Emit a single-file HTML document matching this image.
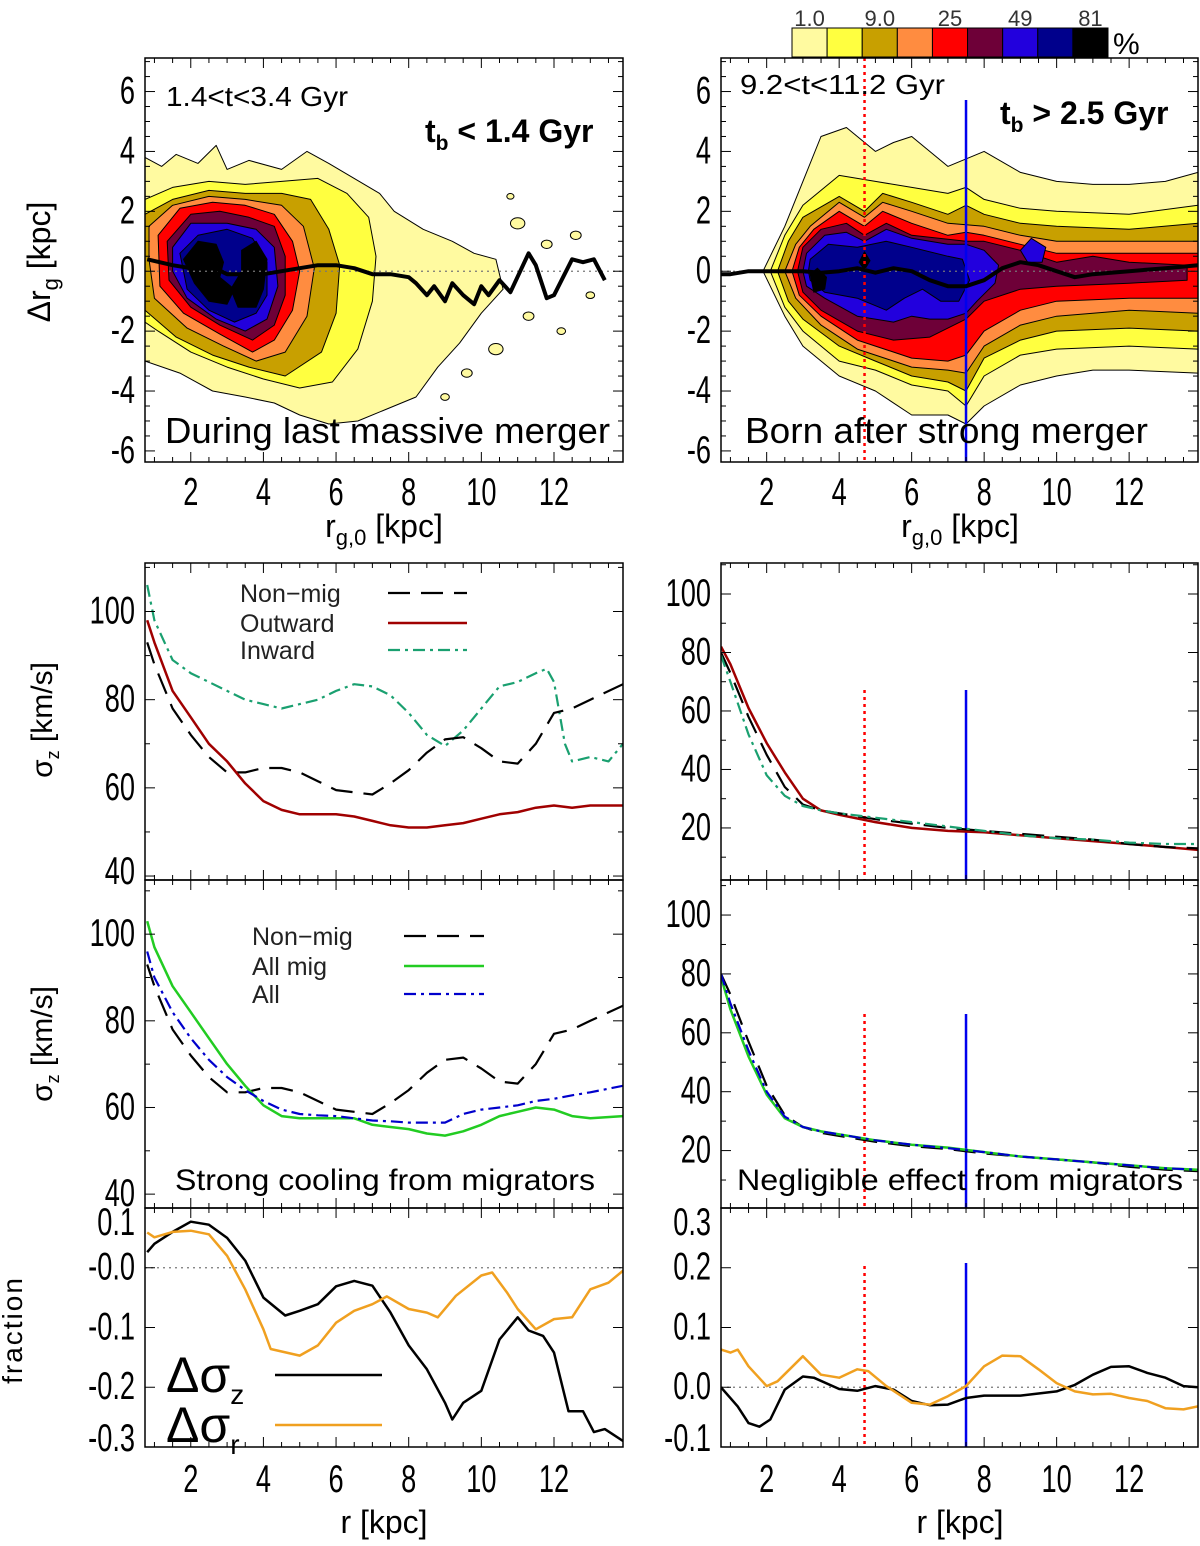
<!DOCTYPE html>
<html><head><meta charset="utf-8"><style>
html,body{margin:0;padding:0;background:#fff;}
svg{display:block;}
text{font-family:"Liberation Sans",sans-serif;}
</style></head><body>
<svg id="fig" width="1200" height="1546" viewBox="0 0 1200 1546" xmlns="http://www.w3.org/2000/svg"></svg>
<script>
// ---------- data ----------
const xTicks = [2,4,6,8,10,12];
const yTicksTop = [-6,-4,-2,0,2,4,6];
const yTicksSig = [40,60,80,100];
const yTicksSigR = [20,40,60,80,100];
const yTicksFracL = [-0.3,-0.2,-0.1,0.0,0.1];
const yTicksFracR = [-0.1,0.0,0.1,0.2,0.3];
const cbColors = ['#fffaa0','#ffff40','#c8a000','#ff8c40','#ff0000','#6e0038','#2200dd','#00008c','#000000'];
const cbLabels = ['1.0','','9.0','','25','','49','','81'];

// left top contours (rg0, drg)
const cL1 = [[0.74,3.8],[1.2,3.5],[1.6,3.9],[2.2,3.6],[2.7,4.2],[3,3.4],[3.6,3.7],[4.5,3.4],[5.2,4.0],[5.8,3.6],[6.5,3.1],[7.2,2.6],[7.6,2.0],[8.4,1.4],[9.2,1.0],[9.8,0.6],[10.4,0.4],[10.6,-0.6],[10.0,-1.4],[9.4,-2.4],[8.8,-3.2],[8.2,-4.2],[7.4,-4.6],[6.6,-5.0],[5.8,-5.1],[5,-4.8],[4.3,-4.4],[3.5,-4.2],[2.6,-4.0],[1.7,-3.4],[0.74,-3.0]];
const cL2 = [[0.74,2.4],[1.5,2.8],[2.5,3.0],[3.5,2.9],[4.5,3.0],[5.5,3.1],[6.3,2.6],[6.9,1.8],[7.1,0.5],[7.0,-1.0],[6.6,-2.6],[5.9,-3.7],[5,-3.9],[4,-3.6],[3,-3.2],[2,-2.7],[1.1,-2.0],[0.74,-1.7]];
const cL3 = [[0.74,1.9],[1.5,2.4],[2.5,2.7],[3.5,2.6],[4.5,2.6],[5.3,2.4],[5.8,1.4],[6.1,0.2],[6.0,-1.4],[5.6,-2.7],[4.6,-3.5],[3.6,-3.2],[2.6,-2.8],[1.6,-2.2],[0.74,-1.3]];
const cL4 = [[0.85,1.5],[1.5,2.2],[2.5,2.5],[3.5,2.4],[4.5,2.2],[5.1,1.5],[5.4,0.1],[5.2,-1.5],[4.6,-2.7],[3.8,-3.0],[2.9,-2.5],[1.9,-1.9],[1.0,-0.9],[0.85,0.4]];
const cL5 = [[1.1,1.2],[1.7,2.1],[2.6,2.3],[3.5,2.2],[4.3,1.9],[4.8,1.0],[5.0,0.0],[4.8,-1.3],[4.3,-2.3],[3.7,-2.7],[2.8,-2.1],[1.8,-1.4],[1.15,-0.5]];
const cL6 = [[1.35,1.0],[2.0,1.9],[2.8,2.0],[3.6,1.8],[4.3,1.5],[4.6,0.5],[4.6,-0.8],[4.3,-1.8],[3.7,-2.3],[2.8,-1.8],[2.0,-1.2],[1.4,-0.3]];
const cL7 = [[1.5,0.8],[2.0,1.6],[3.0,1.6],[3.8,1.4],[4.3,0.8],[4.4,-0.5],[4.1,-1.6],[3.5,-2.0],[2.7,-1.6],[1.9,-0.9],[1.5,0.0]];
const cL8 = [[1.7,0.6],[2.2,1.2],[3.0,1.4],[3.7,1.1],[4.1,0.3],[4.1,-0.8],[3.8,-1.4],[3.2,-1.7],[2.5,-1.3],[1.9,-0.6]];
const cL9a = [[1.8,0.4],[2.2,1.0],[2.7,0.9],[2.9,0.3],[2.8,-0.2],[3.2,-0.6],[3.0,-1.1],[2.5,-1.0],[2.1,-0.4]];
const cL9b = [[3.4,0.7],[3.8,1.0],[4.1,0.4],[4.0,-0.6],[3.8,-1.2],[3.3,-1.2],[3.1,-0.6],[3.4,0.0]];
const islandX = [11.0,11.8,12.6,10.4,9.6,11.3,12.2,9.0,13.0,10.8];
const islandY = [1.6,0.9,1.2,-2.6,-3.4,-1.5,-2.0,-4.2,-0.8,2.5];
const islandR = [0.2,0.15,0.15,0.2,0.15,0.15,0.12,0.12,0.12,0.1];

// right top contours
const cR1 = [[1.9,0.0],[2.5,1.5],[3.0,3.0],[3.5,4.5],[4.2,4.8],[5.0,4.0],[5.5,4.3],[6.0,4.5],[7.0,3.5],[8.0,4.0],[9.0,3.3],[10.0,3.0],[11,2.9],[12,2.9],[13,3.0],[13.9,3.3],[13.9,-3.4],[12,-3.3],[11,-3.3],[10,-3.5],[9,-3.8],[8,-4.5],[7.5,-5.1],[7,-4.8],[6,-4.8],[5,-4.0],[4,-3.5],[3,-2.5],[2.5,-1.5]];
const cR2 = [[2.1,0.0],[2.5,1.2],[3,2.2],[4,3.2],[5,3.0],[6,2.8],[7,2.6],[7.5,2.8],[8,2.4],[9,2.1],[10,2.0],[12,1.9],[13.9,2.2],[13.9,-2.6],[12,-2.5],[10,-2.6],[9,-2.8],[8,-3.5],[7.5,-4.5],[7,-4.0],[6,-3.8],[5,-3.3],[4,-3.0],[3,-2.0],[2.5,-1.2]];
const cR3 = [[2.3,0.0],[2.6,1.0],[3,1.8],[4,2.5],[4.7,2.0],[5.2,2.6],[6,2.3],[7,1.9],[7.5,2.2],[8,1.9],[9,1.6],[10,1.5],[12,1.4],[13.9,1.6],[13.9,-2.0],[12,-1.9],[10,-2.0],[9,-2.3],[8,-2.9],[7.5,-4.0],[7,-3.7],[6,-3.5],[5,-3.0],[4,-2.5],[3,-1.6],[2.6,-1.0]];
const cR4 = [[2.5,0.0],[2.8,0.9],[3.2,1.5],[4,2.3],[4.7,1.8],[5.2,2.3],[6,2.0],[7,1.6],[8,1.5],[9,1.2],[10,1.0],[12,1.0],[13.9,1.0],[13.9,-1.4],[12,-1.3],[10,-1.5],[9,-1.8],[8,-2.5],[7.5,-3.4],[7,-3.3],[6,-3.2],[4.5,-2.6],[3.5,-1.8],[2.8,-0.9]];
const cR5 = [[2.7,0.0],[2.9,0.8],[3.3,1.4],[4,2.0],[4.7,1.5],[5.2,2.0],[6,1.6],[7,1.2],[7.5,1.3],[8,1.2],[9,0.9],[10,0.6],[12,0.6],[13.9,0.6],[13.9,-0.9],[12,-0.9],[10,-1.0],[9,-1.3],[8,-2.0],[7.5,-2.8],[7,-3.0],[6,-2.9],[4.5,-2.3],[3.5,-1.5],[2.9,-0.8]];
const cR6 = [[2.85,0.0],[3.0,0.8],[3.5,1.4],[4.2,1.6],[4.7,1.2],[5.3,1.6],[6,1.2],[7.5,1.0],[8,1.0],[9,0.7],[10,0.3],[11,0.5],[12,0.3],[13.6,0.2],[13.6,-0.3],[12,-0.4],[10,-0.5],[9,-0.6],[8,-1.0],[7.5,-1.6],[7,-1.9],[6.5,-2.2],[5.5,-2.3],[4.5,-2.0],[3.5,-1.3],[3.0,-0.7]];
const cR7 = [[3.0,0.0],[3.1,0.6],[3.6,1.2],[4.2,1.3],[4.7,1.0],[5.3,1.4],[6,1.1],[7,0.9],[7.5,0.9],[8,0.7],[8.4,0.2],[8.3,-0.4],[7.8,-1.0],[7.5,-1.4],[7,-1.6],[6.5,-1.6],[6,-1.5],[5.5,-1.7],[4.5,-1.5],[3.6,-0.9],[3.1,-0.5]];
const cR7b = [[9.0,0.7],[9.3,1.1],[9.7,0.8],[9.6,0.3],[9.2,0.3]];
const cR8 = [[3.15,0.0],[3.2,0.4],[3.7,0.9],[4.5,0.8],[5.3,1.0],[6,0.8],[7,0.5],[7.4,0.4],[7.6,-0.3],[7.3,-1.0],[6.8,-1.0],[6.3,-0.6],[5.8,-0.9],[5.3,-1.3],[4.5,-0.9],[3.6,-0.7],[3.2,-0.3]];
const cR9a = [[3.2,-0.1],[3.4,0.1],[3.65,-0.2],[3.6,-0.6],[3.3,-0.7]];
const cR9b = [[4.55,0.3],[4.7,0.65],[4.85,0.35],[4.7,0.05]];

// mean lines
const meanLx = [0.8,1.5,2,2.5,3,3.5,4,4.5,5,5.5,6,6.5,7,7.5,8,8.2,8.5,8.7,9,9.2,9.5,9.8,10,10.2,10.5,10.8,11.3,11.5,11.8,12,12.5,12.8,13.1,13.4];
const meanLy = [0.4,0.2,0.1,0.2,-0.1,-0.1,-0.1,0,0.1,0.2,0.2,0.1,-0.1,-0.1,-0.2,-0.4,-0.8,-0.5,-1.0,-0.4,-0.8,-1.1,-0.5,-0.8,-0.3,-0.7,0.6,0.2,-0.9,-0.8,0.4,0.3,0.4,-0.3];
const meanRx = [0.74,1,1.5,2,3,3.5,4,4.5,5,5.5,6,6.5,7,7.5,8,8.5,9,9.5,10,10.5,11,12,13,13.9];
const meanRy = [-0.1,-0.1,0,0,0,-0.05,0,0.1,-0.05,0.1,0,-0.3,-0.5,-0.5,-0.3,0.1,0.3,0.2,0,-0.2,-0.1,0,0.1,0.2];

// sigma_z panels
const rL = [0.8,1,1.5,2,2.5,3,3.5,4,4.5,5,5.5,6,6.5,7,7.5,8,8.5,9,9.5,10,10.5,11,11.5,12,12.5,13,13.9];
const nonMigL = [93,88,78,72,67,63.5,63.5,64.5,64.5,63.5,61.5,59.5,59,58.5,61,64,68,71,71.5,69,66,65.5,70,77,78,80,83.5];
const outwardL = [98,93,82,76,70,66,61,57,55,54,54,54,53.5,52.5,51.5,51,51,51.5,52,53,54,54.5,55.5,56,55.5,56,56];
const inwardLx = [0.8,1,1.5,2,2.5,3,3.5,4,4.5,5,5.5,6,6.5,7,7.5,8,8.5,9,9.5,10,10.5,11,11.5,11.8,12,12.3,12.5,13,13.5,13.9];
const inwardL = [106,98,89,86,84,82,80,79,78,79,80,82,83.5,83,81,77,72,69.5,73,78,83,84,86,87,84,70,66,67,66,70];
const allMigL = [103,97,88,82,76,70,65,60.5,58,57.5,57.5,57.5,57.5,56,55.5,55,54,53.5,54.5,56,58,59,60,59.5,58,57.5,58];
const allL = [96,90,82,76,71,67,64,61.5,59.5,58.5,58.2,58,57.5,57,56.8,56.5,56.5,56.5,58.5,59.5,60,60.5,61.5,62,62.8,63.5,65];
const rR = [0.74,1,1.5,2,2.5,3,3.5,4,5,6,7,8,9,10,11,12,13,13.9];
const nonMigR = [80,73,58,45,34,28,26,25,23,21.5,20,19,18,17,16,14.5,13.5,13];
const outwardR = [82,76,61,49,39,30,26,24.5,22,20,19,18.5,17.5,16.5,15.5,14.5,13.5,12.5];
const inwardR = [79,70,52,38,31,27.5,26,25,23.5,22,20.5,19,17.5,16.5,16,15,14.5,14.5];
const nonMigR2 = [80,73,57,42,32,28,26,25,23,21.5,20.5,19,18,17,16,14.5,13.5,13];
const allMigR = [79,68,52,39,31,28,26.5,25.5,23.5,22,21,19.5,18,17,16,15,14,13.5];
const allR = [80,70,54,40,31.5,28,26.5,25.5,23.5,22,20.8,19.5,18,17,16,15,14,13.5];

// fraction panels
const fLx = [0.8,1,1.5,2,2.5,3,3.5,4,4.6,5,5.5,6,6.5,7,7.5,8,8.5,9,9.2,9.5,10,10.5,11,11.3,11.7,12,12.4,12.8,13.1,13.4,13.9];
const dSzL = [0.026,0.04,0.06,0.077,0.072,0.05,0.012,-0.05,-0.08,-0.072,-0.061,-0.031,-0.022,-0.03,-0.075,-0.13,-0.17,-0.226,-0.254,-0.226,-0.206,-0.12,-0.083,-0.105,-0.114,-0.142,-0.24,-0.24,-0.275,-0.27,-0.29];
const fLx2 = [0.8,1,1.5,2,2.5,3,3.5,4,4.2,5,5.5,6,6.5,7,7.4,8,8.5,8.8,9.3,10,10.3,10.7,11,11.5,12,12.5,13,13.5,13.9];
const dSrL = [0.059,0.051,0.06,0.062,0.056,0.02,-0.036,-0.103,-0.136,-0.147,-0.13,-0.092,-0.072,-0.061,-0.048,-0.069,-0.075,-0.083,-0.047,-0.013,-0.008,-0.041,-0.069,-0.103,-0.086,-0.083,-0.036,-0.025,-0.005];
const fRx = [0.74,1.2,1.5,1.8,2.1,2.5,3,3.3,4,4.5,5,5.5,6,6.5,7,7.5,8,9,10,10.5,11,11.5,12,12.5,13,13.5,13.9];
const dSzR = [0,-0.032,-0.06,-0.066,-0.054,-0.004,0.018,0.016,-0.003,-0.006,0.002,-0.004,-0.023,-0.03,-0.029,-0.018,-0.014,-0.014,-0.007,0.004,0.021,0.034,0.035,0.024,0.016,0.002,0];
const fRx2 = [0.74,1,1.2,1.5,2,2.3,3,3.5,4,4.5,4.8,5.3,6,6.5,7,7.5,8,8.5,9,9.5,10,10.5,11,11.5,12,12.5,13,13.5,13.9];
const dSrR = [0.063,0.058,0.063,0.035,0.002,0.01,0.052,0.021,0.016,0.03,0.027,0.002,-0.026,-0.029,-0.015,0.002,0.035,0.053,0.052,0.03,0.007,-0.007,-0.012,-0.011,-0.018,-0.023,-0.035,-0.037,-0.032];
const rRed = 4.7, rBlue = 7.5;

// ---------- drawing ----------
const NS = 'http://www.w3.org/2000/svg';
const svg = document.getElementById('fig');
function mk(tag, name, attrs, parent){
  const el = document.createElementNS(NS, tag);
  
  
  for (const k in attrs) el.setAttribute(k, attrs[k]);
  (parent||svg).appendChild(el);
  return el;
}
function txt(name, x, y, s, size, extra, parent){
  const t = mk('text', name, Object.assign({x:x, y:y, 'font-size':size, fill:'#000'}, extra||{}), parent);
  t.textContent = s;
  return t;
}
function panel(p){
  const sx = v => p.x0 + (v - p.xr[0])/(p.xr[1]-p.xr[0])*(p.x1-p.x0);
  const sy = v => p.y1 - (v - p.yr[0])/(p.yr[1]-p.yr[0])*(p.y1-p.y0);
  p.sx = sx; p.sy = sy;
  p.g = mk('g', p.name, {});
  const cid = p.name + '-clip';
  const cp = mk('clipPath', 'clip', {id:cid}, p.g);
  mk('rect', 'clip-rect', {x:p.x0, y:p.y0, width:p.x1-p.x0, height:p.y1-p.y0}, cp);
  p.plot = mk('g', p.name + '-plot', {'clip-path':'url(#'+cid+')'}, p.g);
  return p;
}
function finishAxes(p){
  const g = mk('g', p.name + '-axes', {}, p.g);
  mk('rect', 'frame', {x:p.x0, y:p.y0, width:p.x1-p.x0, height:p.y1-p.y0, fill:'none', stroke:'#000', 'stroke-width':1.5}, g);
  for (let v = 0.5; v < p.xr[1]; v += 0.5){
    if (v < p.xr[0]) continue;
    const x = p.sx(v), major = Math.abs(v % 2) < 1e-6, L = major ? 10 : 5;
    mk('line', 'x-tick', {x1:x, x2:x, y1:p.y1, y2:p.y1-L, stroke:'#000', 'stroke-width':1}, g);
    mk('line', 'x-tick', {x1:x, x2:x, y1:p.y0, y2:p.y0+L, stroke:'#000', 'stroke-width':1}, g);
  }
  for (let v = Math.ceil(p.yr[0]/p.ym)*p.ym; v <= p.yr[1]+1e-9; v += p.ym){
    const y = p.sy(v);
    const major = p.yt.some(t => Math.abs(t - v) < 1e-6), L = major ? 10 : 5;
    mk('line', 'y-tick', {x1:p.x0, x2:p.x0+L, y1:y, y2:y, stroke:'#000', 'stroke-width':1}, g);
    mk('line', 'y-tick', {x1:p.x1, x2:p.x1-L, y1:y, y2:y, stroke:'#000', 'stroke-width':1}, g);
  }
  p.yt.forEach(v => {
    let y = Math.min(Math.max(p.sy(v), p.y0+15), p.y1-8);
    txt('y-tick-label', p.x0-10, y+12, p.fmt(v), 34, {'text-anchor':'end', transform:'translate('+(p.x0-10)+','+(y+12)+') scale(0.8,1.15) translate('+(-(p.x0-10))+','+(-(y+12))+')'}, g);
  });
  if (p.xl){
    xTicks.forEach(v => {
      const x = p.sx(v), y = p.xly;
      txt('x-tick-label', x, y, String(v), 34, {'text-anchor':'middle', transform:'translate('+x+','+y+') scale(0.8,1.15) translate('+(-x)+','+(-y)+')'}, g);
    });
  }
}
function poly(p, pts, fill, name){
  const d = pts.map((q,i) => (i?'L':'M') + p.sx(q[0]).toFixed(1) + ',' + p.sy(q[1]).toFixed(1)).join('') + 'Z';
  mk('path', name, {d:d, fill:fill, stroke:'#000', 'stroke-width':1, 'stroke-linejoin':'round'}, p.plot);
}
function line(p, xs, ys, color, w, dash, name){
  const d = xs.map((x,i) => (i?'L':'M') + p.sx(x).toFixed(1) + ',' + p.sy(ys[i]).toFixed(1)).join('');
  const a = {d:d, fill:'none', stroke:color, 'stroke-width':w, 'stroke-linejoin':'round'};
  if (dash) a['stroke-dasharray'] = dash;
  mk('path', name, a, p.plot);
}
function hzero(p){
  mk('line', 'zero-line', {x1:p.x0, x2:p.x1, y1:p.sy(0), y2:p.sy(0), stroke:'#777', 'stroke-width':1.2, 'stroke-dasharray':'2,4'}, p.plot);
}
function vmarks(p, topRed, topBlue){
  mk('line', 'red-dotted-marker', {x1:p.sx(rRed), x2:p.sx(rRed), y1:topRed, y2:p.y1, stroke:'#ff0000', 'stroke-width':2.5, 'stroke-dasharray':'3,4'}, p.plot);
  mk('line', 'blue-marker', {x1:p.sx(rBlue), x2:p.sx(rBlue), y1:topBlue, y2:p.y1, stroke:'#0000ee', 'stroke-width':2.5}, p.plot);
}
const XR = [0.74, 13.9];
const f0 = v => String(v);
const f1 = v => (v === 0 ? '-0.0' : v.toFixed(1));
const f1r = v => v.toFixed(1);

// Top-left
const pA = panel({name:'panel-top-left', x0:145, x1:623, y0:58, y1:462, xr:XR, yr:[-6.37,7.12], yt:yTicksTop, ym:0.5, fmt:f0, xl:true, xly:505});
[[cL1,0],[cL2,1],[cL3,2],[cL4,3],[cL5,4],[cL6,5],[cL7,6],[cL8,7],[cL9a,8],[cL9b,8]].forEach(c => poly(pA, c[0], cbColors[c[1]], 'contour-level-'+(c[1]+1)));
islandX.forEach((x,i) => {
  mk('ellipse', 'contour-island', {cx:pA.sx(x), cy:pA.sy(islandY[i]), rx:islandR[i]*36, ry:islandR[i]*28, fill:cbColors[0], stroke:'#000', 'stroke-width':1}, pA.plot);
});
hzero(pA);
line(pA, meanLx, meanLy, '#000', 4, null, 'mean-migration-line');
finishAxes(pA);

// Top-right
const pB = panel({name:'panel-top-right', x0:721, x1:1198, y0:58, y1:462, xr:XR, yr:[-6.37,7.12], yt:yTicksTop, ym:0.5, fmt:f0, xl:true, xly:505});
[[cR1,0],[cR2,1],[cR3,2],[cR4,3],[cR5,4],[cR6,5],[cR7,6],[cR7b,6],[cR8,7],[cR9a,8],[cR9b,8]].forEach(c => poly(pB, c[0], cbColors[c[1]], 'contour-level-'+(c[1]+1)));
hzero(pB);
vmarks(pB, 58, 100);
line(pB, meanRx, meanRy, '#000', 4, null, 'mean-migration-line');
finishAxes(pB);

// Row 2
const pC = panel({name:'panel-sigma-left-1', x0:145, x1:623, y0:563, y1:880, xr:XR, yr:[39.1,111], yt:yTicksSig, ym:10, fmt:f0});
line(pC, inwardLx, inwardL, '#1aa070', 2.2, '12,5,3,5', 'inward-line');
line(pC, rL, nonMigL, '#000', 2.2, '22,11', 'non-mig-line');
line(pC, rL, outwardL, '#a00000', 2.5, null, 'outward-line');
finishAxes(pC);
const pD = panel({name:'panel-sigma-right-1', x0:721, x1:1198, y0:563, y1:880, xr:XR, yr:[2.2,110.6], yt:yTicksSigR, ym:10, fmt:f0});
vmarks(pD, 690, 690);
line(pD, rR, outwardR, '#a00000', 2.5, null, 'outward-line');
line(pD, rR, nonMigR, '#000', 2.2, '22,11', 'non-mig-line');
line(pD, rR, inwardR, '#1aa070', 2.2, '12,5,3,5', 'inward-line');
finishAxes(pD);

// Row 3
const pE = panel({name:'panel-sigma-left-2', x0:145, x1:623, y0:880, y1:1208, xr:XR, yr:[36.8,112.5], yt:yTicksSig, ym:10, fmt:f0});
line(pE, rL, nonMigL, '#000', 2.2, '22,11', 'non-mig-line');
line(pE, rL, allMigL, '#22cc22', 2.5, null, 'all-mig-line');
line(pE, rL, allL, '#0000cc', 2.2, '12,5,3,5', 'all-line');
finishAxes(pE);
const pF = panel({name:'panel-sigma-right-2', x0:721, x1:1198, y0:880, y1:1208, xr:XR, yr:[0.5,111.9], yt:yTicksSigR, ym:10, fmt:f0});
vmarks(pF, 1014, 1014);
line(pF, rR, nonMigR2, '#000', 2.2, '22,11', 'non-mig-line');
line(pF, rR, allMigR, '#22cc22', 2.5, null, 'all-mig-line');
line(pF, rR, allR, '#0000cc', 2.2, '12,5,3,5', 'all-line');
finishAxes(pF);

// Row 4
const pG = panel({name:'panel-fraction-left', x0:145, x1:623, y0:1208, y1:1447, xr:XR, yr:[-0.3,0.1], yt:yTicksFracL, ym:0.1, fmt:f1, xl:true, xly:1492});
hzero(pG);
line(pG, fLx, dSzL, '#000', 2.5, null, 'delta-sigma-z-line');
line(pG, fLx2, dSrL, '#f0a020', 2.5, null, 'delta-sigma-r-line');
finishAxes(pG);
const pH = panel({name:'panel-fraction-right', x0:721, x1:1198, y0:1208, y1:1447, xr:XR, yr:[-0.1,0.3], yt:yTicksFracR, ym:0.1, fmt:f1r, xl:true, xly:1492});
hzero(pH);
vmarks(pH, 1266, 1263);
line(pH, fRx, dSzR, '#000', 2.5, null, 'delta-sigma-z-line');
line(pH, fRx2, dSrR, '#f0a020', 2.5, null, 'delta-sigma-r-line');
finishAxes(pH);

// ---------- colorbar ----------
const cbG = mk('g', 'colorbar', {});
const cbX0 = 792, cbW = (1108-792)/cbColors.length;
cbColors.forEach((c,i) => {
  mk('rect', 'colorbar-cell', {x:cbX0+i*cbW, y:28, width:cbW, height:29, fill:c, stroke:'#000', 'stroke-width':1}, cbG);
  if (cbLabels[i]) txt('colorbar-label', cbX0+(i+0.5)*cbW, 26, cbLabels[i], 22, {'text-anchor':'middle', fill:'#333'}, cbG);
});
txt('colorbar-unit', 1113, 54, '%', 30, {}, cbG);

// ---------- annotations ----------
const A = mk('g', 'annotations', {});
const LA = {lengthAdjust:'spacingAndGlyphs'};
txt('time-range-left', 166, 106, '1.4<t<3.4 Gyr', 28, Object.assign({textLength:182}, LA), A);
const tb1 = txt('tb-label-left', 425, 142, 't', 32, {'font-weight':'bold'}, A);
tb1.innerHTML = 't<tspan dy="8" font-size="21">b</tspan><tspan dy="-8"> &lt; 1.4 Gyr</tspan>';
txt('merger-caption-left', 165, 443, 'During last massive merger', 36, Object.assign({textLength:445}, LA), A);
txt('time-range-right', 740, 94, '9.2<t<11.2 Gyr', 28, Object.assign({textLength:205}, LA), A);
const tb2 = txt('tb-label-right', 1000, 124, 't', 32, {'font-weight':'bold'}, A);
tb2.innerHTML = 't<tspan dy="8" font-size="21">b</tspan><tspan dy="-8"> &gt; 2.5 Gyr</tspan>';
txt('merger-caption-right', 745, 443, 'Born after strong merger', 36, Object.assign({textLength:403}, LA), A);
txt('caption-strong-cooling', 175, 1190, 'Strong cooling from migrators', 30, Object.assign({textLength:420}, LA), A);
txt('caption-negligible', 737, 1190, 'Negligible effect from migrators', 30, Object.assign({textLength:446}, LA), A);

// legends
const legs = [
  ['legend-non-mig', 'Non\u2212mig', 240, 593, '#000', '22,11', 2.2],
  ['legend-outward', 'Outward', 240, 623, '#a00000', null, 2.5],
  ['legend-inward', 'Inward', 240, 650, '#1aa070', '12,5,3,5', 2.2],
  ['legend-non-mig-2', 'Non\u2212mig', 252, 936, '#000', '22,11', 2.2],
  ['legend-all-mig', 'All  mig', 252, 966, '#22cc22', null, 2.5],
  ['legend-all', 'All', 252, 994, '#0000cc', '12,5,3,5', 2.2]
];
legs.forEach((l,i) => {
  const g = mk('g', l[0], {}, A);
  txt('legend-text', l[2], l[3]+9, l[1], 25, {fill:'#222'}, g);
  const x1 = i < 3 ? 388 : 404, x2 = i < 3 ? 467 : 484;
  const a = {x1:x1, x2:x2, y1:l[3], y2:l[3], stroke:l[4], 'stroke-width':l[6]};
  if (l[5]) a['stroke-dasharray'] = l[5];
  mk('line', 'legend-line', a, g);
});
const lz = txt('legend-delta-sigma-z', 166, 1392, '\u0394\u03c3', 50, {}, A);
lz.innerHTML = '\u0394\u03c3<tspan dy="12" font-size="28">z</tspan>';
mk('line', 'legend-line', {x1:275, x2:382, y1:1375, y2:1375, stroke:'#000', 'stroke-width':2.5}, A);
const lr = txt('legend-delta-sigma-r', 166, 1442, '\u0394\u03c3', 50, {}, A);
lr.innerHTML = '\u0394\u03c3<tspan dy="12" font-size="28">r</tspan>';
mk('line', 'legend-line', {x1:275, x2:382, y1:1425, y2:1425, stroke:'#f0a020', 'stroke-width':2.5}, A);

// axis titles
const T = mk('g', 'axis-titles', {});
const yt1 = txt('y-axis-title-top', 0, 0, '', 32, {'text-anchor':'middle', transform:'translate(50,262) rotate(-90)'}, T);
yt1.innerHTML = '\u0394r<tspan dy="8" font-size="22">g</tspan><tspan dy="-8"> [kpc]</tspan>';
const yt2 = txt('y-axis-title-sigma-1', 0, 0, '', 30, {'text-anchor':'middle', transform:'translate(52,720) rotate(-90)'}, T);
yt2.innerHTML = '\u03c3<tspan dy="7" font-size="18">z</tspan><tspan dy="-7">  [km/s]</tspan>';
const yt3 = txt('y-axis-title-sigma-2', 0, 0, '', 30, {'text-anchor':'middle', transform:'translate(52,1044) rotate(-90)'}, T);
yt3.innerHTML = '\u03c3<tspan dy="7" font-size="18">z</tspan><tspan dy="-7">  [km/s]</tspan>';
txt('y-axis-title-fraction', 0, 0, 'fraction', 28, {'text-anchor':'middle', transform:'translate(22,1330) rotate(-90)', 'letter-spacing':'2'}, T);
[[384,'x-axis-title-top-left'],[960,'x-axis-title-top-right']].forEach(a => {
  const t = txt(a[1], a[0], 537, '', 32, {'text-anchor':'middle'}, T);
  t.innerHTML = 'r<tspan dy="8" font-size="22">g,0</tspan><tspan dy="-8">  [kpc]</tspan>';
});
txt('x-axis-title-bottom-left', 384, 1533, 'r  [kpc]', 32, {'text-anchor':'middle'}, T);
txt('x-axis-title-bottom-right', 960, 1533, 'r  [kpc]', 32, {'text-anchor':'middle'}, T);
</script>
</body></html>
